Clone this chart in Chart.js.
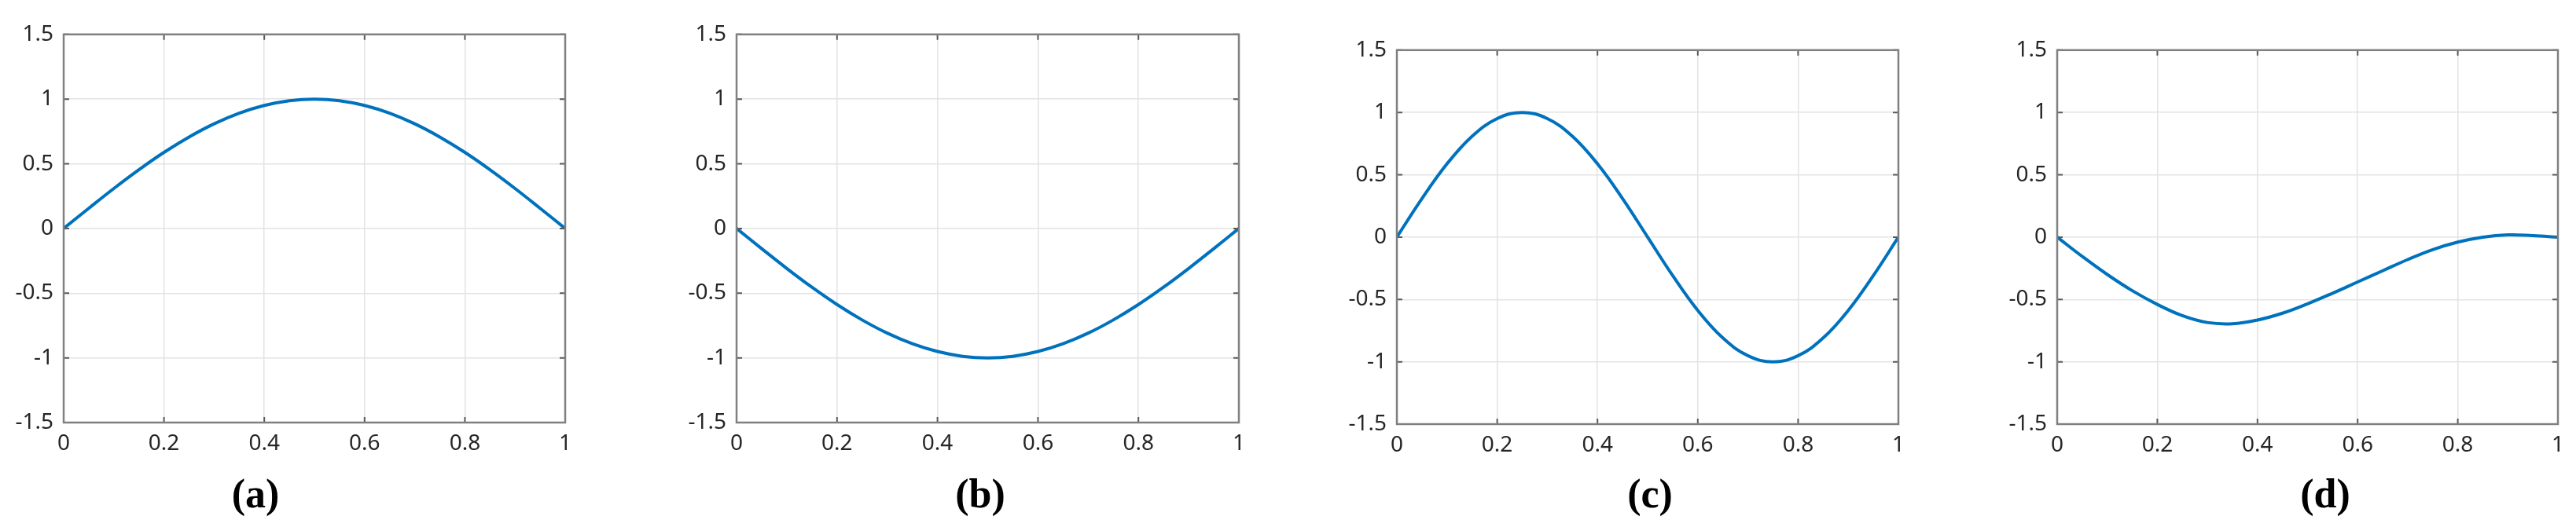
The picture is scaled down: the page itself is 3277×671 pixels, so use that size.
<!DOCTYPE html>
<html>
<head>
<meta charset="utf-8">
<script src="https://cdn.jsdelivr.net/npm/chart.js@4"></script>
<style>
  body { margin: 0; background: #fff; width: 3277px; height: 671px; position: relative; overflow: hidden; }
  canvas { position: absolute; }
  .sub { position: absolute; font-family: "Liberation Serif", serif; font-weight: bold; font-size: 52px; line-height: 52px; transform: translate(-50%, -50%); color: #000; }
</style>
</head>
<body>
<canvas id="chartA"></canvas>
<canvas id="chartB"></canvas>
<canvas id="chartC"></canvas>
<canvas id="chartD"></canvas>
<div class="sub" style="left:325px; top:629px;">(a)</div>
<div class="sub" style="left:1247px; top:629px;">(b)</div>
<div class="sub" style="left:2099px; top:629px;">(c)</div>
<div class="sub" style="left:2958px; top:629px;">(d)</div>
<script>
// datos
const xValues = [0, 0.05, 0.1, 0.15, 0.2, 0.25, 0.3, 0.35, 0.4, 0.45, 0.5, 0.55, 0.6, 0.65, 0.7, 0.75, 0.8, 0.85, 0.9, 0.95, 1];
const seriesA = [0, 0.156, 0.309, 0.454, 0.588, 0.707, 0.809, 0.891, 0.951, 0.988, 1, 0.988, 0.951, 0.891, 0.809, 0.707, 0.588, 0.454, 0.309, 0.156, 0];
const seriesB = [0, -0.156, -0.309, -0.454, -0.588, -0.707, -0.809, -0.891, -0.951, -0.988, -1, -0.988, -0.951, -0.891, -0.809, -0.707, -0.588, -0.454, -0.309, -0.156, 0];
const seriesC = [0, 0.309, 0.588, 0.809, 0.951, 1, 0.951, 0.809, 0.588, 0.309, 0, -0.309, -0.588, -0.809, -0.951, -1, -0.951, -0.809, -0.588, -0.309, 0];
const seriesD = [0, -0.155, -0.3, -0.43, -0.54, -0.63, -0.685, -0.695, -0.665, -0.61, -0.535, -0.45, -0.36, -0.27, -0.18, -0.1, -0.04, 0.0, 0.018, 0.012, 0];
const xTickLabels = ['0', '0.2', '0.4', '0.6', '0.8', '1'];
const yTickLabels = ['-1.5', '-1', '-0.5', '0', '0.5', '1', '1.5'];

const yAxisWidth = 90;
const xAxisHeight = 50;
const padTop = 20;
const padRight = 20;

// area de cada grafico en la pagina
const paneles = [
  { id: 'chartA', data: seriesA, left: 81, top: 34, width: 638, height: 504 },
  { id: 'chartB', data: seriesB, left: 937, top: 34, width: 639, height: 504 },
  { id: 'chartC', data: seriesC, left: 1777, top: 54, width: 638, height: 486 },
  { id: 'chartD', data: seriesD, left: 2617, top: 54, width: 637, height: 486 }
];

const cajaPlugin = {
  id: 'caja',
  afterDatasetsDraw(chart) {
    const { ctx, chartArea: a, scales } = chart;
    ctx.save();
    ctx.strokeStyle = '#5a5a5a';
    ctx.lineWidth = 2;
    const tl = 7;
    scales.x.ticks.forEach((t) => {
      const px = scales.x.getPixelForValue(t.value);
      ctx.beginPath();
      ctx.moveTo(px, a.bottom); ctx.lineTo(px, a.bottom - tl);
      ctx.moveTo(px, a.top); ctx.lineTo(px, a.top + tl);
      ctx.stroke();
    });
    scales.y.ticks.forEach((t) => {
      const py = scales.y.getPixelForValue(t.value);
      ctx.beginPath();
      ctx.moveTo(a.left, py); ctx.lineTo(a.left + tl, py);
      ctx.moveTo(a.right, py); ctx.lineTo(a.right - tl, py);
      ctx.stroke();
    });
    ctx.strokeStyle = '#808080';
    ctx.lineWidth = 2.5;
    ctx.strokeRect(a.left, a.top, a.right - a.left, a.bottom - a.top);
    ctx.restore();
  }
};

const crearGrafico = (panel) => {
  const canvas = document.getElementById(panel.id);
  canvas.width = panel.width + yAxisWidth + padRight;
  canvas.height = panel.height + padTop + xAxisHeight;
  canvas.style.left = (panel.left - yAxisWidth) + 'px';
  canvas.style.top = (panel.top - padTop) + 'px';

  const puntos = xValues.map((x, i) => ({ x: x, y: panel.data[i] }));

  const datasets = [
    {
      data: puntos,
      borderColor: '#0072BD',
      borderWidth: 4,
      pointRadius: 0,
      tension: 0.4,
      fill: false
    }
  ];

  const tickFont = { family: 'Noto Sans', size: 28 };

  const config = {
    type: 'line',
    data: { datasets },
    options: {
      responsive: false,
      animation: false,
      devicePixelRatio: 1,
      layout: { padding: { top: padTop, right: padRight, left: 0, bottom: 0 } },
      plugins: { legend: { display: false }, tooltip: { enabled: false } },
      scales: {
        x: {
          type: 'linear',
          min: 0,
          max: 1,
          afterFit: (scale) => { scale.height = xAxisHeight; },
          grid: { color: '#e3e3e3', lineWidth: 1.5, drawTicks: false },
          border: { display: false },
          ticks: {
            stepSize: 0.2,
            padding: 10,
            color: '#262626',
            font: tickFont,
            maxRotation: 0,
            callback: (v, i) => xTickLabels[i]
          }
        },
        y: {
          min: -1.5,
          max: 1.5,
          afterFit: (scale) => { scale.width = yAxisWidth; },
          grid: { color: '#e3e3e3', lineWidth: 1.5, drawTicks: false },
          border: { display: false },
          ticks: {
            stepSize: 0.5,
            padding: 13,
            color: '#262626',
            font: tickFont,
            callback: (v, i) => yTickLabels[i]
          }
        }
      }
    },
    plugins: [cajaPlugin]
  };

  return new Chart(canvas, config);
};

paneles.forEach(crearGrafico);
</script>
</body>
</html>
